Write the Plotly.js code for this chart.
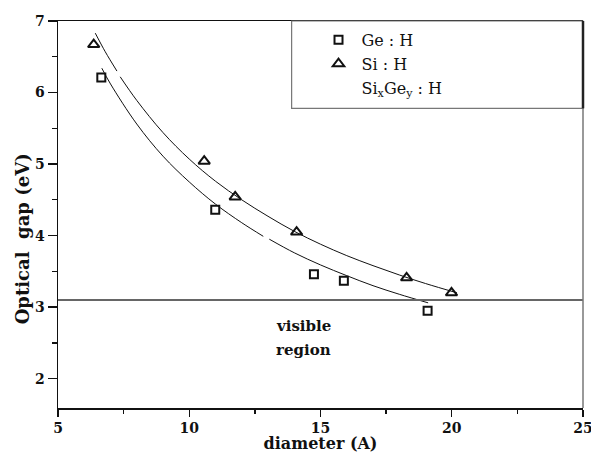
<!DOCTYPE html>
<html>
<head>
<meta charset="utf-8">
<script src="https://cdn.plot.ly/plotly-3.0.1.min.js"></script>
<style>html,body{margin:0;padding:0;background:#fff;}#chart{width:591px;height:453px;}</style>
</head>
<body>
<div id="chart"></div>
<script>
// Measured points
var geX = [6.65, 10.99, 14.75, 15.89, 19.08];
var geY = [6.21, 4.36, 3.46, 3.37, 2.95];
var siX = [6.36, 10.57, 11.75, 14.09, 18.28, 19.99];
var siY = [6.67, 5.04, 4.54, 4.05, 3.41, 3.20];

// Fitted curves (null = break in the drawn line)
var siFitX = [6.42, 6.8, 7.245, null, 7.37, 8, 9, 10, 11, 12, 13, 14, 15, 16, 17, 18, 19, 20.2];
var siFitY = [6.83, 6.57, 6.30, null, 6.22, 5.89, 5.44, 5.07, 4.76, 4.50, 4.27, 4.06, 3.88, 3.72, 3.58, 3.45, 3.33, 3.20];
var geFitX = [6.67, 7, 8, 9, 10, 11, 12, 12.82, null, 13.05, 14, 15, 16, 17, 18, 19.1];
var geFitY = [6.34, 6.12, 5.56, 5.11, 4.75, 4.44, 4.18, 3.99, null, 3.95, 3.76, 3.59, 3.44, 3.30, 3.18, 3.06];

var visibleEdge = 3.1;
var xTicks = [5, 10, 15, 20, 25];
var yTicks = [2, 3, 4, 5, 6, 7];
var legendNames = ["Ge : H", "Si : H", "Si<sub>x</sub>Ge<sub>y</sub> : H"];

var serif = "DejaVu Serif, serif";

var traces = [
  {x: siFitX, y: siFitY, mode: "lines", line: {color: "#111", width: 1, shape: "spline"}, connectgaps: false, showlegend: false, hoverinfo: "skip"},
  {x: geFitX, y: geFitY, mode: "lines", line: {color: "#111", width: 1, shape: "spline"}, connectgaps: false, showlegend: false, hoverinfo: "skip"},
  {x: geX, y: geY, mode: "markers", name: legendNames[0],
   marker: {symbol: "square-open", size: 8, color: "#111", line: {width: 2, color: "#111"}}},
  {x: siX, y: siY, mode: "markers", name: legendNames[1],
   marker: {symbol: "triangle-up-open", size: 10, color: "#111", line: {width: 2, color: "#111"}}},
  {x: [null], y: [null], mode: "markers", name: legendNames[2],
   marker: {symbol: "square", size: 8, color: "rgba(0,0,0,0)", line: {width: 0}}}
];

var layout = {
  width: 591, height: 453,
  margin: {l: 58, r: 8, t: 21, b: 45},
  paper_bgcolor: "#fff", plot_bgcolor: "#fff",
  font: {family: serif, color: "#111"},
  showlegend: true,
  legend: {x: 0.4905, y: 0.995, xanchor: "left", yanchor: "top", bgcolor: "rgba(0,0,0,0)",
           borderwidth: 0, itemwidth: 36, font: {family: serif, size: 16, color: "#111"}, tracegroupgap: 0},
  xaxis: {
    range: [5, 25], tickvals: xTicks, ticktext: xTicks.map(String),
    ticks: "outside", ticklen: 7, tickwidth: 1.3, tickcolor: "#111",
    ticklabeloverflow: "allow",
    minor: {dtick: 2.5, tick0: 5, ticks: "outside", ticklen: 4, tickwidth: 1.3, tickcolor: "#111", showgrid: false},
    showline: true, linecolor: "#111", linewidth: 1.5, mirror: true,
    showgrid: false, zeroline: false,
    tickfont: {family: serif, size: 14, weight: "bold", color: "#111"},
    title: {text: "diameter (A)", font: {family: serif, size: 16, weight: "bold", color: "#111"}, standoff: 3}
  },
  yaxis: {
    range: [1.59, 7], tickvals: yTicks, ticktext: yTicks.map(String),
    ticks: "outside", ticklen: 9, tickwidth: 1.3, tickcolor: "#111",
    ticklabeloverflow: "allow",
    minor: {dtick: 0.5, tick0: 0, ticks: "outside", ticklen: 5, tickwidth: 1.3, tickcolor: "#111", showgrid: false},
    showline: true, linecolor: "#111", linewidth: 1.5, mirror: false,
    showgrid: false, zeroline: false,
    tickfont: {family: serif, size: 14, weight: "bold", color: "#111"}
  },
  shapes: [
    {type: "line", xref: "paper", x0: 0, x1: 1, yref: "y", y0: visibleEdge, y1: visibleEdge,
     line: {color: "#666", width: 2}},
    {type: "line", xref: "paper", x0: 1, x1: 1, yref: "paper", y0: 0, y1: 1,
     line: {color: "#777", width: 1.5}},
    {type: "rect", xref: "paper", x0: 0.445, x1: 1, yref: "paper", y0: 0.7744, y1: 1,
     line: {color: "#777", width: 1.2}, fillcolor: "rgba(0,0,0,0)"},
    {type: "line", xref: "paper", x0: 1, x1: 1, yref: "paper", y0: 0.7744, y1: 1,
     line: {color: "#222", width: 2.5}}
  ],
  annotations: [
    {x: -0.0685, y: 0.436, xref: "paper", yref: "paper", text: "Optical\u00a0 gap (eV)", textangle: -90,
     xanchor: "center", yanchor: "middle", showarrow: false,
     font: {family: serif, size: 18, weight: "bold", color: "#111"}},
    {x: 14.35, y: 2.73, xref: "x", yref: "y", text: "visible", showarrow: false,
     font: {family: serif, size: 15, weight: "bold", color: "#111"}},
    {x: 14.35, y: 2.395, xref: "x", yref: "y", text: "region", showarrow: false,
     font: {family: serif, size: 15, weight: "bold", color: "#111"}}
  ]
};

Plotly.newPlot("chart", traces, layout, {displayModeBar: false, staticPlot: true});
</script>
</body>
</html>
